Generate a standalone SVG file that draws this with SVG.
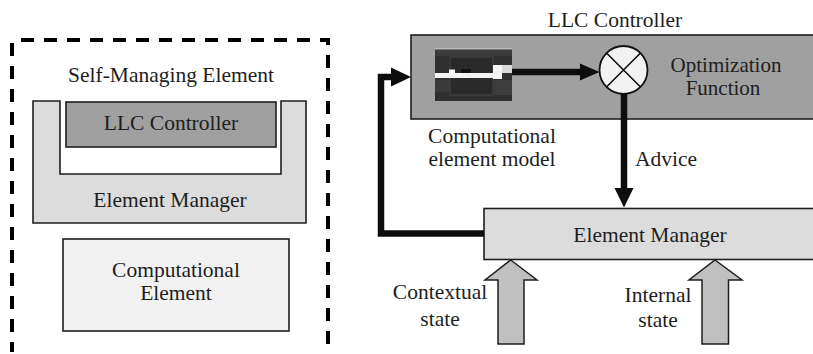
<svg xmlns="http://www.w3.org/2000/svg" width="813" height="354" viewBox="0 0 813 354">
  <style>
    text { font-family: "Liberation Serif", "Times New Roman", serif; font-size: 21.5px; fill: #1e1e1e; }
    .c { text-anchor: middle; }
    .box { stroke: #1e1e1e; stroke-width: 1.6; }
    .dark { fill: #a0a0a0; }
    .light { fill: #dcdcdc; }
    .pale { fill: #f2f2f2; }
    .wire { fill: none; stroke: #0d0d0d; stroke-width: 6.5; }
    .head { fill: #0d0d0d; }
    .block { fill: #c0c0c0; stroke: #1e1e1e; stroke-width: 1.5; stroke-linejoin: miter; }
    .dash { fill: none; stroke: #000; stroke-width: 4; stroke-dasharray: 13 10; }
  </style>

  <!-- Left panel: self-managing element -->
  <g id="self-managing-element">
    <path class="dash" d="M12,43 V352"/>
    <path class="dash" d="M18,40 H328 V352" stroke-dashoffset="20"/>
    <text class="c" x="171" y="82">Self-Managing Element</text>
  </g>

  <g id="element-manager-left">
    <path class="box light" d="M33,101 H60 V174 H281 V101 H306 V223 H33 Z"/>
    <text class="c" x="170" y="207">Element Manager</text>
  </g>

  <g id="llc-controller-left">
    <rect class="box dark" x="66" y="102" width="210" height="45"/>
    <text class="c" x="171" y="130">LLC Controller</text>
  </g>

  <g id="computational-element">
    <rect class="box pale" x="63" y="239" width="226" height="92"/>
    <text class="c" x="176" y="277">Computational</text>
    <text class="c" x="176" y="300">Element</text>
  </g>

  <!-- Right panel: controller loop -->
  <g id="llc-controller">
    <text class="c" x="615" y="27">LLC Controller</text>
    <rect class="box dark" x="411" y="35" width="412" height="84"/>
  </g>

  <g id="element-model">
    <rect x="435" y="48" width="77" height="53" fill="#2f2f2f"/>
    <rect x="435" y="48" width="77" height="1.5" fill="#bdbdbd"/>
    <rect x="435" y="50" width="77" height="6" fill="#3b3b3b"/>
    <rect x="450" y="57" width="43" height="38" fill="#2a2a2a" stroke="#474747" stroke-width="1"/>
    <rect x="435" y="80" width="15" height="12" fill="#3a3a3a"/>
    <rect x="493" y="80" width="19" height="15" fill="#3c3c3c"/>
    <path d="M435,73 H449 V69.5 H455 V73 H493 V65 H512 V73 H502 V79 H493 V78 H435 Z" fill="#f4f4f4"/>
    <rect x="461" y="69" width="10" height="4" fill="#111"/>
    <rect x="502" y="65" width="10" height="8" fill="#d8d8d8"/>
  </g>

  <g id="optimization-function">
    <circle cx="623.5" cy="70" r="24" fill="#f2f2f2" stroke="#111" stroke-width="1.8"/>
    <path d="M606.5,53 L640.5,87 M640.5,53 L606.5,87" stroke="#111" stroke-width="1.6"/>
    <text class="c" x="726" y="71.5" style="font-size:21px">Optimization</text>
    <text class="c" x="723" y="95" style="font-size:21px">Function</text>
  </g>

  <g id="model-label">
    <text class="c" x="492" y="143">Computational</text>
    <text class="c" x="492" y="166">element model</text>
  </g>

  <g id="element-manager">
    <rect class="box light" x="484" y="208.5" width="340" height="51"/>
    <text class="c" x="650" y="242">Element Manager</text>
  </g>

  <g id="contextual-state">
    <path class="block" d="M510.7,260 L537,280 H524 V344 H498 V280 H485 Z"/>
    <text class="c" x="440" y="299">Contextual</text>
    <text class="c" x="440" y="326">state</text>
  </g>

  <g id="internal-state">
    <path class="block" d="M715,260 L742,280 H728.5 V344 H702 V280 H689 Z"/>
    <text class="c" x="658" y="302">Internal</text>
    <text class="c" x="658" y="327">state</text>
  </g>

  <!-- Connectors -->
  <g id="connectors">
    <path class="wire" d="M512,72 H582"/>
    <polygon class="head" points="580,63.5 599.5,72 580,80.5"/>

    <path class="wire" d="M624,94 V190" stroke-width="6"/>
    <polygon class="head" points="614.5,188 633.5,188 624,207.5"/>
    <text x="635" y="166">Advice</text>

    <path class="wire" d="M484,233.5 H381 V77 H393" stroke-linejoin="miter"/>
    <polygon class="head" points="391,67.5 411,77 391,86.5"/>
  </g>
</svg>
